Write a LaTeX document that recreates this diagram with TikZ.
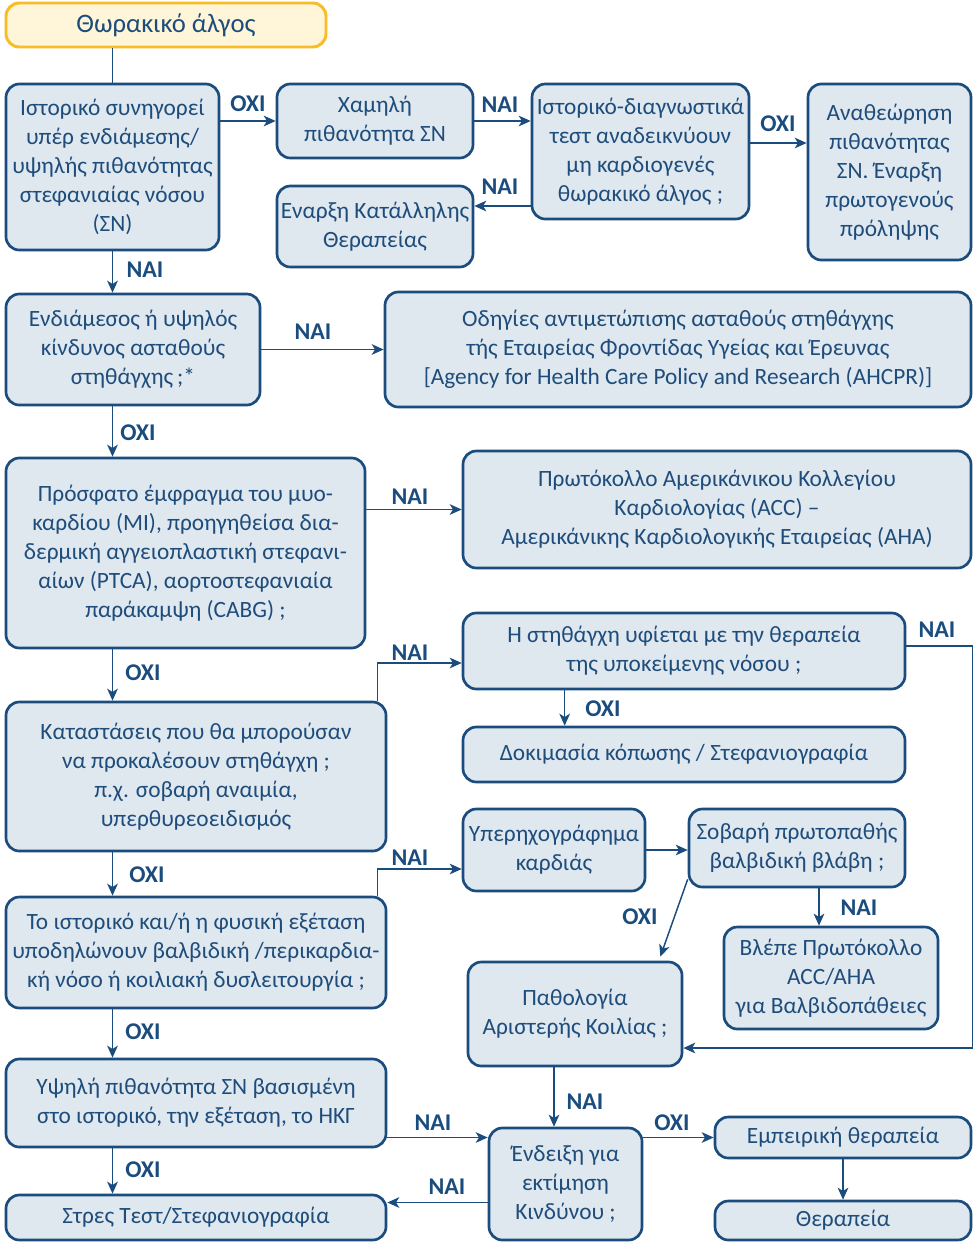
\documentclass[tikz,border=0pt]{standalone}
\usepackage{fontspec}
\setmainfont{Carlito}
\usetikzlibrary{arrows.meta,calc}
\definecolor{navy}{HTML}{1B4C7E}
\definecolor{boxfill}{HTML}{DFE7EF}
\definecolor{txt}{HTML}{1E4D7B}
\definecolor{gold}{HTML}{F7BC26}
\definecolor{cream}{HTML}{FFF5D8}
\newcommand\mkbox[7]{\node[bx,#1,minimum width={(#4-#2)*0.75pt},minimum height={(#5-#3)*0.75pt}] (#6) at ({(#2+#4)/2},{(#3+#5)/2}) {#7};}
\begin{document}
\begin{tikzpicture}[x=0.75pt,y=-0.75pt,
  bx/.style={draw=navy, fill=boxfill, line width=2pt, rounded corners=10pt, text=txt, align=center, inner sep=0pt, font=\fontsize{17.5}{21.75}\selectfont},
  titlebox/.style={draw=gold, fill=cream, line width=2.2pt, font=\fontsize{20}{24}\selectfont},
  arr/.style={draw=navy, line width=1.1pt, -{Stealth[length=9pt,width=8pt,inset=2.5pt]}},
  ln/.style={draw=navy, line width=1.1pt},
  lab/.style={text=navy, font=\fontsize{18}{20}\selectfont\bfseries, inner sep=0pt}]
\fill[white] (0,0) rectangle (972,1242);
\useasboundingbox (0,0) rectangle (972,1242);

\mkbox{titlebox}{6}{3}{326}{47}{top}{Θωρακικό άλγος}
\mkbox{}{6}{84}{219}{250}{A}{Ιστορικό συνηγορεί\\υπέρ ενδιάμεσης/\\υψηλής πιθανότητας\\στεφανιαίας νόσου\\(ΣΝ)}
\mkbox{}{277}{84}{473}{158}{B}{Χαμηλή\\πιθανότητα ΣΝ}
\mkbox{}{532}{84}{749}{219}{C}{Ιστορικό-διαγνωστικά\\τεστ αναδεικνύουν\\μη καρδιογενές\\θωρακικό άλγος ;}
\mkbox{}{808}{84}{971}{260}{D}{Αναθεώρηση\\πιθανότητας\\ΣΝ. Έναρξη\\πρωτογενούς\\πρόληψης}
\mkbox{}{277}{186}{473}{267}{E}{Εναρξη Κατάλληλης\\Θεραπείας}
\mkbox{}{6}{294}{260}{405}{F}{Ενδιάμεσος ή υψηλός\\κίνδυνος ασταθούς\\στηθάγχης\,;*}
\mkbox{}{385}{292}{971}{407}{H}{Οδηγίες αντιμετώπισης ασταθούς στηθάγχης\\τής Εταιρείας Φροντίδας Υγείας και Έρευνας\\{[}Agency for Health Care Policy and Research (AHCPR){]}}
\mkbox{}{6}{458}{365}{648}{G}{Πρόσφατο έμφραγμα του μυο-\\καρδίου (MI), προηγηθείσα δια-\\δερμική αγγειοπλαστική στεφανι-\\αίων (PTCA), αορτοστεφανιαία\\παράκαμψη (CABG) ;}
\mkbox{}{463}{451}{971}{568}{I}{Πρωτόκολλο Αμερικάνικου Κολλεγίου\\Καρδιολογίας (ACC) –\\Αμερικάνικης Καρδιολογικής Εταιρείας (AHA)}
\mkbox{}{463}{613}{905}{689}{J}{Η στηθάγχη υφίεται με την θεραπεία\\της υποκείμενης νόσου ;}
\mkbox{}{463}{727}{905}{782}{K}{Δοκιμασία κόπωσης / Στεφανιογραφία}
\mkbox{}{6}{702}{386}{851}{L}{Καταστάσεις που θα μπορούσαν\\να προκαλέσουν στηθάγχη ;\\π.χ. σοβαρή αναιμία,\\υπερθυρεοειδισμός}
\mkbox{}{6}{897}{386}{1008}{M}{Το ιστορικό και/ή η φυσική εξέταση\\υποδηλώνουν βαλβιδική /περικαρδια-\\κή νόσο ή κοιλιακή δυσλειτουργία ;}
\mkbox{}{463}{809}{645}{891}{N}{Υπερηχογράφημα\\καρδιάς}
\mkbox{}{689}{809}{905}{887}{Q}{Σοβαρή πρωτοπαθής\\βαλβιδική βλάβη ;}
\mkbox{}{724}{927}{938}{1029}{R}{Βλέπε Πρωτόκολλο\\ACC/AHA\\για Βαλβιδοπάθειες}
\mkbox{}{468}{962}{682}{1066}{P}{Παθολογία\\Αριστερής Κοιλίας ;}
\mkbox{}{6}{1059}{386}{1147}{O}{Υψηλή πιθανότητα ΣΝ βασισμένη\\στο ιστορικό, την εξέταση, το ΗΚΓ}
\mkbox{}{489}{1128}{642}{1240}{S}{Ένδειξη για\\εκτίμηση\\Κινδύνου ;}
\mkbox{}{715}{1117}{971}{1158}{T}{Εμπειρική θεραπεία}
\mkbox{}{715}{1201}{971}{1240}{U}{Θεραπεία}
\mkbox{}{6}{1195}{386}{1240}{V}{Στρες Τεστ/Στεφανιογραφία}

% connectors
\draw[ln] (top.south -| A.north) -- (A.north);
\draw[arr] (A.east |- B.west) -- (B.west);
\draw[arr] (B.east) -- (B.east -| C.west);
\coordinate (c1) at ($(C.east)+(0,-8.5)$);
\draw[arr] (c1) -- (c1 -| D.west);
\coordinate (c2) at ($(C.west)+(0,54.5)$);
\draw[arr] (c2) -- (c2 -| E.east);
\draw[arr] (A.south) -- (A.south |- F.north);
\draw[arr] (F.east) -- (F.east -| H.west);
\draw[arr] (A.south |- F.south) -- (A.south |- G.north);
\draw[arr] (G.east |- I.west) -- (I.west);
\draw[arr] (A.south |- G.south) -- (A.south |- L.north);
\draw[arr] ($(L.north east)+(-10,0)$) |- ($(J.west)+(0,12)$);
\draw[arr] (A.south |- L.south) -- (A.south |- M.north);
\draw[arr] ($(M.north east)+(-10,0)$) |- ($(N.west)+(0,19)$);
\draw[arr] (A.south |- M.south) -- (A.south |- O.north);
\draw[arr] (A.south |- O.south) -- (A.south |- V.north);
\coordinate (c3) at ($(J.south west)+(103,0)$);
\draw[arr] (c3) -- (c3 |- K.north);
\coordinate (c4) at ($(J.east)+(0,-5)$);
\coordinate (c5) at ($(P.east)+(0,34)$);
\draw[arr] (c4) -- (c4 -| H.east) -- (c5 -| H.east) -- (c5);
\draw[arr] (N.east) -- (N.east -| Q.west);
\coordinate (c6) at ($(R.north)+(-12,0)$);
\draw[arr] (c6 |- Q.south) -- (c6);
\draw[arr] ($(Q.south west)+(0,-9)$) -- ($(P.north east)+(-23,-4)$);
\coordinate (c7) at ($(P.south)+(-21,0)$);
\draw[arr] (c7) -- (c7 |- S.north);
\coordinate (c8) at ($(S.west)+(0,-46.5)$);
\draw[arr] (c8 -| O.east) -- (c8);
\draw[arr] (S.east |- T.west) -- (T.west);
\draw[arr] (T.south) -- (U.north);
\coordinate (c9) at ($(S.west)+(0,18.5)$);
\draw[arr] (c9) -- (c9 -| V.east);

% labels
\node[lab] (l1) at (248,104) {ΟΧΙ};
\node[lab] (l2) at (500,105) {ΝΑΙ};
\node[lab] (l3) at (778,124) {ΟΧΙ};
\node[lab] (l4) at (500,187) {ΝΑΙ};
\node[lab] (l5) at (145,270) {ΝΑΙ};
\node[lab] (l6) at (313,332) {ΝΑΙ};
\node[lab] (l7) at (138,433) {ΟΧΙ};
\node[lab] (l8) at (410,497) {ΝΑΙ};
\node[lab] (l9) at (143,673) {ΟΧΙ};
\node[lab] (l10) at (410,653) {ΝΑΙ};
\node[lab] (l11) at (937,630) {ΝΑΙ};
\node[lab] (l12) at (603,709) {ΟΧΙ};
\node[lab] (l13) at (147,875) {ΟΧΙ};
\node[lab] (l14) at (410,858) {ΝΑΙ};
\node[lab] (l15) at (859,908) {ΝΑΙ};
\node[lab] (l16) at (640,917) {ΟΧΙ};
\node[lab] (l17) at (143,1032) {ΟΧΙ};
\node[lab] (l18) at (585,1102) {ΝΑΙ};
\node[lab] (l19) at (672,1123) {ΟΧΙ};
\node[lab] (l20) at (433,1123) {ΝΑΙ};
\node[lab] (l21) at (143,1170) {ΟΧΙ};
\node[lab] (l22) at (447,1187) {ΝΑΙ};
\end{tikzpicture}
\end{document}
